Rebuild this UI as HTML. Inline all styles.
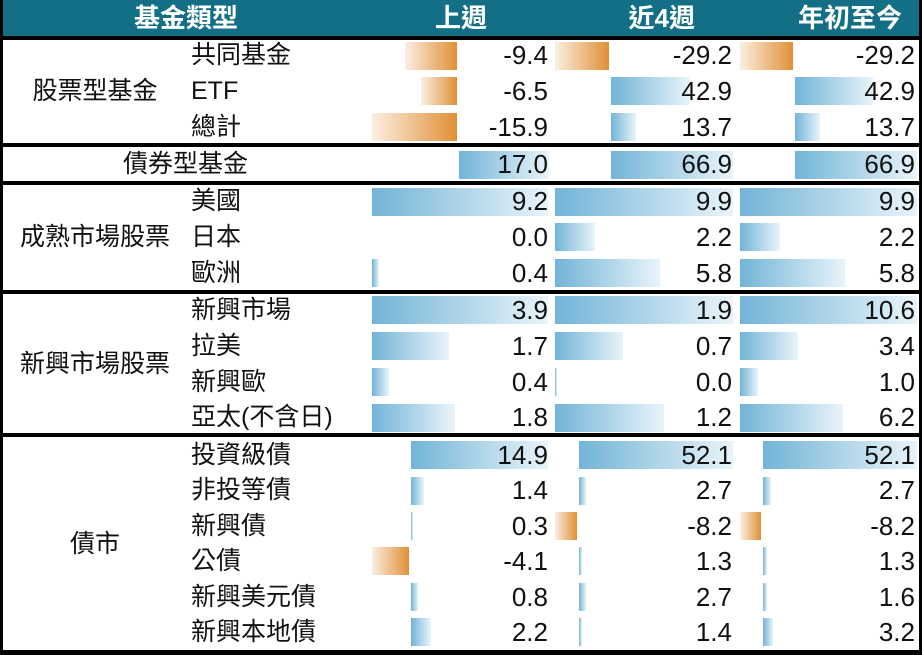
<!DOCTYPE html>
<html><head><meta charset="utf-8"><style>
*{margin:0;padding:0;box-sizing:border-box}
body{width:922px;height:655px;background:#fff;position:relative;overflow:hidden;font-family:"Liberation Sans","Noto Sans CJK TC",sans-serif;color:#111}
.a{position:absolute}
.hd{left:0;top:0;width:922px;height:37px;background:#136f86}
.ht{position:absolute;top:0;height:37px;line-height:37px;color:#fff;font-size:26px;font-weight:bold;font-family:"Liberation Sans","Noto Sans CJK TC",sans-serif}
.sep{position:absolute;left:0;width:922px;height:4px;background:#000}
.vl{position:absolute;top:0;width:3px;height:655px;background:#000}
.p{position:absolute;height:28px;background:linear-gradient(to right,#72b4d7,#e9f4fa)}
.n{position:absolute;height:28px;background:linear-gradient(to right,#fbefe2,#e08f36)}
.t{position:absolute;font-size:25px;line-height:28px;height:28px;white-space:nowrap}
.r{text-align:right;width:120px;font-size:26px}
.g{text-align:center;width:190px;left:0}
</style></head><body>
<div class="a hd"></div>
<div class="ht" style="left:0;width:372px;text-align:center">基金類型</div>
<div class="ht" style="left:370px;width:182px;text-align:right;padding-right:65px">上週</div>
<div class="ht" style="left:552px;width:185px;text-align:right;padding-right:42px">近4週</div>
<div class="ht" style="left:737px;width:185px;text-align:right;padding-right:20px">年初至今</div>

<div class="sep" style="top:36px"></div>
<div class="sep" style="top:143px"></div>
<div class="sep" style="top:181px"></div>
<div class="sep" style="top:290px"></div>
<div class="sep" style="top:433px"></div>
<div class="sep" style="top:650px;height:5px"></div>
<div class="vl" style="left:0"></div>
<div class="vl" style="left:919px"></div>

<!-- group1 -->
<div class="t g" style="top:77px">股票型基金</div>
<div class="t" style="left:191px;top:41px">共同基金</div>
<div class="t" style="left:191px;top:77px">ETF</div>
<div class="t" style="left:191px;top:113px">總計</div>
<div class="n" style="left:405px;width:52px;top:42px"></div>
<div class="n" style="left:421px;width:36px;top:77px"></div>
<div class="n" style="left:372px;width:85px;top:113px"></div>
<div class="n" style="left:555px;width:54px;top:42px"></div>
<div class="p" style="left:611px;width:79px;top:77px"></div>
<div class="p" style="left:611px;width:25px;top:113px"></div>
<div class="n" style="left:740px;width:53px;top:42px"></div>
<div class="p" style="left:795px;width:78px;top:77px"></div>
<div class="p" style="left:795px;width:25px;top:113px"></div>
<div class="t r" style="left:428px;top:41px">-9.4</div>
<div class="t r" style="left:428px;top:77px">-6.5</div>
<div class="t r" style="left:428px;top:113px">-15.9</div>
<div class="t r" style="left:612px;top:41px">-29.2</div>
<div class="t r" style="left:612px;top:77px">42.9</div>
<div class="t r" style="left:612px;top:113px">13.7</div>
<div class="t r" style="left:795px;top:41px">-29.2</div>
<div class="t r" style="left:795px;top:77px">42.9</div>
<div class="t r" style="left:795px;top:113px">13.7</div>

<!-- group2 -->
<div class="t" style="left:123px;top:150px">債券型基金</div>
<div class="p" style="left:459px;width:90px;top:151px"></div>
<div class="p" style="left:611px;width:122px;top:151px"></div>
<div class="p" style="left:795px;width:122px;top:151px"></div>
<div class="t r" style="left:428px;top:150px">17.0</div>
<div class="t r" style="left:612px;top:150px">66.9</div>
<div class="t r" style="left:795px;top:150px">66.9</div>

<!-- group3 -->
<div class="t g" style="top:223px">成熟市場股票</div>
<div class="t" style="left:191px;top:187px">美國</div>
<div class="t" style="left:191px;top:223px">日本</div>
<div class="t" style="left:191px;top:259px">歐洲</div>
<div class="p" style="left:372px;width:176px;top:188px"></div>
<div class="p" style="left:372px;width:7px;top:259px"></div>
<div class="p" style="left:555px;width:178px;top:188px"></div>
<div class="p" style="left:555px;width:40px;top:223px"></div>
<div class="p" style="left:555px;width:105px;top:259px"></div>
<div class="p" style="left:740px;width:177px;top:188px"></div>
<div class="p" style="left:740px;width:40px;top:223px"></div>
<div class="p" style="left:740px;width:105px;top:259px"></div>
<div class="t r" style="left:428px;top:187px">9.2</div>
<div class="t r" style="left:428px;top:223px">0.0</div>
<div class="t r" style="left:428px;top:259px">0.4</div>
<div class="t r" style="left:612px;top:187px">9.9</div>
<div class="t r" style="left:612px;top:223px">2.2</div>
<div class="t r" style="left:612px;top:259px">5.8</div>
<div class="t r" style="left:795px;top:187px">9.9</div>
<div class="t r" style="left:795px;top:223px">2.2</div>
<div class="t r" style="left:795px;top:259px">5.8</div>

<!-- group4 -->
<div class="t g" style="top:350px">新興市場股票</div>
<div class="t" style="left:191px;top:296px">新興市場</div>
<div class="t" style="left:191px;top:332px">拉美</div>
<div class="t" style="left:191px;top:368px">新興歐</div>
<div class="t" style="left:191px;top:403px">亞太(不含日)</div>
<div class="p" style="left:372px;width:176px;top:296px"></div>
<div class="p" style="left:372px;width:77px;top:332px"></div>
<div class="p" style="left:372px;width:17px;top:368px"></div>
<div class="p" style="left:372px;width:83px;top:404px"></div>
<div class="p" style="left:555px;width:178px;top:296px"></div>
<div class="p" style="left:555px;width:68px;top:332px"></div>
<div class="p" style="left:555px;width:2px;top:368px"></div>
<div class="p" style="left:555px;width:109px;top:404px"></div>
<div class="p" style="left:740px;width:177px;top:296px"></div>
<div class="p" style="left:740px;width:58px;top:332px"></div>
<div class="p" style="left:740px;width:18px;top:368px"></div>
<div class="p" style="left:740px;width:103px;top:404px"></div>
<div class="t r" style="left:428px;top:296px">3.9</div>
<div class="t r" style="left:428px;top:332px">1.7</div>
<div class="t r" style="left:428px;top:368px">0.4</div>
<div class="t r" style="left:428px;top:403px">1.8</div>
<div class="t r" style="left:612px;top:296px">1.9</div>
<div class="t r" style="left:612px;top:332px">0.7</div>
<div class="t r" style="left:612px;top:368px">0.0</div>
<div class="t r" style="left:612px;top:403px">1.2</div>
<div class="t r" style="left:795px;top:296px">10.6</div>
<div class="t r" style="left:795px;top:332px">3.4</div>
<div class="t r" style="left:795px;top:368px">1.0</div>
<div class="t r" style="left:795px;top:403px">6.2</div>

<!-- group5 -->
<div class="t g" style="top:530px">債市</div>
<div class="t" style="left:191px;top:441px">投資級債</div>
<div class="t" style="left:191px;top:476px">非投等債</div>
<div class="t" style="left:191px;top:512px">新興債</div>
<div class="t" style="left:191px;top:547px">公債</div>
<div class="t" style="left:191px;top:583px">新興美元債</div>
<div class="t" style="left:191px;top:618px">新興本地債</div>
<div class="p" style="left:411px;width:137px;top:441px"></div>
<div class="p" style="left:411px;width:13px;top:477px"></div>
<div class="p" style="left:411px;width:2px;top:512px"></div>
<div class="n" style="left:372px;width:37px;top:547px"></div>
<div class="p" style="left:411px;width:7px;top:583px"></div>
<div class="p" style="left:411px;width:20px;top:618px"></div>
<div class="p" style="left:579px;width:154px;top:441px"></div>
<div class="p" style="left:579px;width:7px;top:477px"></div>
<div class="n" style="left:555px;width:22px;top:512px"></div>
<div class="p" style="left:579px;width:3px;top:547px"></div>
<div class="p" style="left:579px;width:7px;top:583px"></div>
<div class="p" style="left:579px;width:3px;top:618px"></div>
<div class="p" style="left:763px;width:154px;top:441px"></div>
<div class="p" style="left:763px;width:8px;top:477px"></div>
<div class="n" style="left:740px;width:21px;top:512px"></div>
<div class="p" style="left:763px;width:4px;top:547px"></div>
<div class="p" style="left:763px;width:4px;top:583px"></div>
<div class="p" style="left:763px;width:10px;top:618px"></div>
<div class="t r" style="left:428px;top:441px">14.9</div>
<div class="t r" style="left:428px;top:476px">1.4</div>
<div class="t r" style="left:428px;top:512px">0.3</div>
<div class="t r" style="left:428px;top:547px">-4.1</div>
<div class="t r" style="left:428px;top:583px">0.8</div>
<div class="t r" style="left:428px;top:618px">2.2</div>
<div class="t r" style="left:612px;top:441px">52.1</div>
<div class="t r" style="left:612px;top:476px">2.7</div>
<div class="t r" style="left:612px;top:512px">-8.2</div>
<div class="t r" style="left:612px;top:547px">1.3</div>
<div class="t r" style="left:612px;top:583px">2.7</div>
<div class="t r" style="left:612px;top:618px">1.4</div>
<div class="t r" style="left:795px;top:441px">52.1</div>
<div class="t r" style="left:795px;top:476px">2.7</div>
<div class="t r" style="left:795px;top:512px">-8.2</div>
<div class="t r" style="left:795px;top:547px">1.3</div>
<div class="t r" style="left:795px;top:583px">1.6</div>
<div class="t r" style="left:795px;top:618px">3.2</div>
</body></html>
